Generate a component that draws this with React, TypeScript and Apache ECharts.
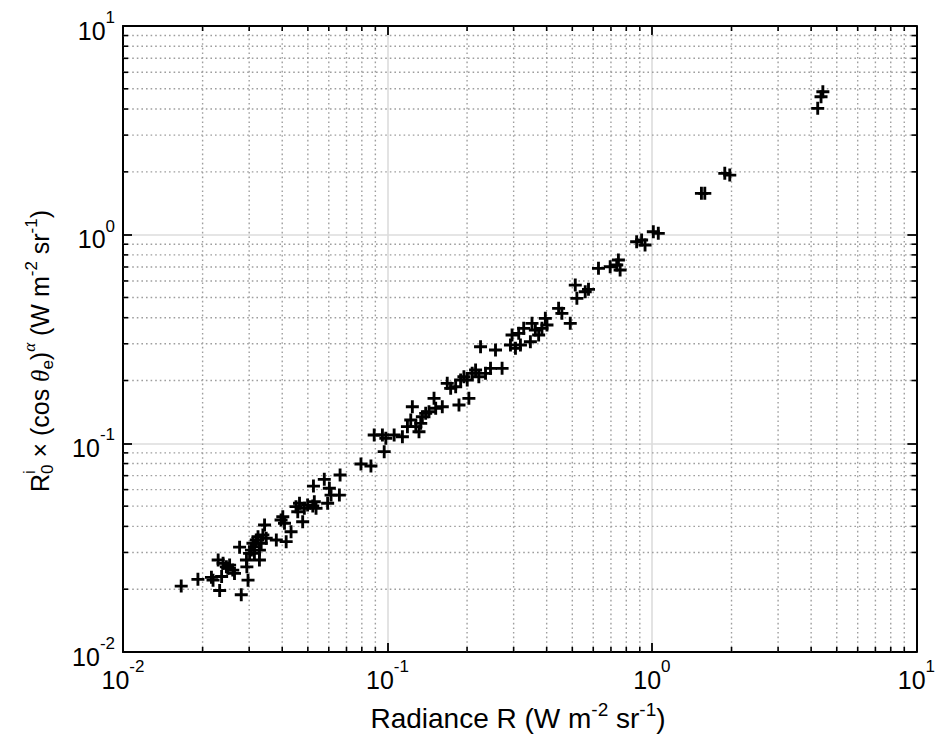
import React, { useEffect, useRef } from "react";
import * as echarts from "echarts";

// Radiance R (W m^-2 sr^-1)
const radianceX: number[] = [
  0.0166, 0.0192, 0.0216, 0.0219, 0.0232, 0.0236, 0.0229, 0.0239, 0.0246, 0.0253,
  0.026, 0.0264, 0.0249, 0.0276, 0.028, 0.0293, 0.0294, 0.0297, 0.0301, 0.0306,
  0.031, 0.0314, 0.0319, 0.0324, 0.0328, 0.0333, 0.0338, 0.0343, 0.0348, 0.0328,
  0.0314, 0.038, 0.0414, 0.0432, 0.0396, 0.0402, 0.0408, 0.0451, 0.0458, 0.0465,
  0.0478, 0.0485, 0.0499, 0.0522, 0.0529, 0.0525, 0.0537, 0.0577, 0.0603, 0.0594,
  0.0612, 0.0658, 0.0662, 0.0794, 0.0866, 0.0891, 0.0957, 0.0986, 0.0972, 0.106,
  0.1139, 0.119, 0.1225, 0.1242, 0.128, 0.1316, 0.1336, 0.1355, 0.1395, 0.1436,
  0.15, 0.1522, 0.1612, 0.1683, 0.1734, 0.1811, 0.1864, 0.1891, 0.1946, 0.2003,
  0.2032, 0.2091, 0.2154, 0.2216, 0.2349, 0.2453, 0.2249, 0.2562, 0.2713, 0.2918,
  0.2959, 0.3048, 0.3136, 0.3183, 0.3275, 0.3471, 0.352, 0.3625, 0.373, 0.3839,
  0.3954, 0.401, 0.4438, 0.4566, 0.4912, 0.5131, 0.5203, 0.5595, 0.5757, 0.628,
  0.6953, 0.7362, 0.747, 0.7581, 0.8755, 0.9419, 0.9143, 1.0123, 1.0571, 1.539,
  1.585, 1.886, 1.97, 4.236, 4.36, 4.43,
];

// R0^i x (cos theta_e)^alpha (W m^-2 sr^-1)
const r0CosY: number[] = [
  0.0207, 0.0223, 0.0228, 0.0221, 0.0197, 0.023, 0.0276, 0.0266, 0.0256, 0.0261,
  0.0247, 0.0238, 0.0252, 0.0318, 0.0188, 0.0276, 0.0256, 0.0221, 0.0297, 0.0308,
  0.0332, 0.032, 0.0344, 0.0357, 0.0308, 0.0332, 0.0364, 0.0406, 0.0351, 0.0276,
  0.0297, 0.0344, 0.0338, 0.0377, 0.0429, 0.0445, 0.0414, 0.0497, 0.047, 0.0516,
  0.0421, 0.0488, 0.0506, 0.0501, 0.0525, 0.0624, 0.0488, 0.0672, 0.0609, 0.0516,
  0.0565, 0.0565, 0.0705, 0.0796, 0.0779, 0.1096, 0.1096, 0.1057, 0.0912, 0.1096,
  0.1076, 0.1202, 0.1293, 0.1498, 0.1202, 0.1137, 0.1247, 0.1341, 0.1392, 0.1417,
  0.1643, 0.1472, 0.1498, 0.1939, 0.1834, 0.1867, 0.1526, 0.2011, 0.2085, 0.2011,
  0.1643, 0.2165, 0.2245, 0.2085, 0.2165, 0.2288, 0.2904, 0.28, 0.2288, 0.2958,
  0.3303, 0.2852, 0.3366, 0.2958, 0.3556, 0.3068, 0.3758, 0.3491, 0.3303, 0.3556,
  0.3972, 0.3689, 0.4436, 0.4197, 0.3758, 0.5734, 0.4952, 0.5325, 0.5469, 0.6897,
  0.702, 0.7154, 0.7558, 0.6768, 0.925, 0.8917, 0.9424, 1.033, 1.0148, 1.578,
  1.578, 1.967, 1.93, 4.03, 4.58, 4.84,
];

const axisMin = 0.01;
const axisMax = 10;
const tickValues: number[] = [0.01, 0.1, 1, 10];
const tickExponents: string[] = ["-2", "-1", "0", "1"];
const minorMultipliers: number[] = [2, 3, 4, 5, 6, 7, 8, 9];
const decades: number[] = [0.01, 0.1, 1];

const FONT = "'Liberation Sans', Arial, Helvetica, sans-serif";
const SERIF = "'Liberation Serif', 'DejaVu Serif', serif";

type Seg = { t: string; size: number; rise: number; italic?: boolean; serif?: boolean; stack?: boolean };

function buildText(segs: Seg[], cx: number, cy: number, rotation: number) {
  const canvas = document.createElement("canvas");
  const ctx = canvas.getContext("2d")!;
  const items: { seg: Seg; x: number }[] = [];
  let x = 0;
  let stackW = 0;
  for (const s of segs) {
    const fam = s.serif ? SERIF : FONT;
    ctx.font = `${s.italic ? "italic " : ""}${s.size}px ${fam}`;
    const w = ctx.measureText(s.t).width;
    items.push({ seg: s, x });
    if (s.stack) {
      stackW = Math.max(stackW, w);
    } else {
      x += Math.max(w, stackW);
      stackW = 0;
    }
  }
  const total = x;
  const children = items.map(({ seg, x }) => ({
    type: "text",
    x: x - total / 2,
    y: -seg.rise,
    style: {
      text: seg.t,
      fontSize: seg.size,
      fontFamily: seg.serif ? SERIF : FONT,
      fontStyle: seg.italic ? "italic" : "normal",
      fill: "#000",
      align: "left",
      verticalAlign: "middle",
    },
  }));
  return { type: "group", x: cx, y: cy, rotation, children };
}

const XS = 28; // x title font size
const XSS = 19;
const YS = 25; // y title font size
const YSS = 17;

const xTitleSegs: Seg[] = [
  { t: "Radiance R (W m", size: XS, rise: 0 },
  { t: "-2", size: XSS, rise: 9 },
  { t: " sr", size: XS, rise: 0 },
  { t: "-1", size: XSS, rise: 9 },
  { t: ")", size: XS, rise: 0 },
];

const yTitleSegs: Seg[] = [
  { t: "R", size: YS, rise: 0 },
  { t: "i", size: YSS, rise: 11, stack: true },
  { t: "0", size: YSS, rise: -7 },
  { t: " \u00d7 (cos ", size: YS, rise: 0 },
  { t: "\u03b8", size: YS, rise: 0, italic: true, serif: true },
  { t: "e", size: YSS, rise: -7 },
  { t: ")", size: YS, rise: 0 },
  { t: "\u03b1", size: YSS, rise: 11, italic: true, serif: true },
  { t: " (W m", size: YS, rise: 0 },
  { t: "-2", size: YSS, rise: 9 },
  { t: " sr", size: YS, rise: 0 },
  { t: "-1", size: YSS, rise: 9 },
  { t: ")", size: YS, rise: 0 },
];

function tickFormatter(v: number) {
  let best = 0;
  for (let i = 0; i < tickValues.length; i++) {
    if (Math.abs(Math.log10(tickValues[i]) - Math.log10(v)) < Math.abs(Math.log10(tickValues[best]) - Math.log10(v))) best = i;
  }
  return `{b|10}{s|${tickExponents[best]}}`;
}

const richLabel = {
  b: { fontSize: 25, fontFamily: FONT, color: "#000", lineHeight: 34, verticalAlign: "bottom" },
  s: { fontSize: 17, fontFamily: FONT, color: "#000", lineHeight: 20, verticalAlign: "top" },
};

export default function App() {
  const ref = useRef<HTMLDivElement>(null);
  useEffect(() => {
    if (!ref.current) return;
    const chart = echarts.init(ref.current, undefined, { renderer: "svg" });

    const minorValues: number[][] = [];
    for (const d of decades) for (const m of minorMultipliers) minorValues.push([d * m, d * m]);

    const points = radianceX.map((x, i) => [x, r0CosY[i]]);

    const baseAxis = {
      type: "log",
      logBase: 10,
      min: axisMin,
      max: axisMax,
      axisLine: { show: true, onZero: false, lineStyle: { color: "#000", width: 2 } },
      axisTick: { show: true, inside: true, length: 9, lineStyle: { color: "#000", width: 1.8 } },
    };

    chart.setOption({
      animation: false,
      backgroundColor: "#fff",
      grid: { left: 123, top: 26, width: 796, height: 626, containLabel: false },
      xAxis: [
        {
          ...baseAxis,
          position: "bottom",
          axisLabel: { formatter: tickFormatter, rich: richLabel, margin: 6 },
          splitLine: { show: true, lineStyle: { color: "#dcdcdc", width: 1.6 } },
        },
        {
          ...baseAxis,
          position: "top",
          axisLabel: { show: false },
          splitLine: { show: false },
        },
      ],
      yAxis: [
        {
          ...baseAxis,
          position: "left",
          axisLabel: { formatter: tickFormatter, rich: richLabel, margin: 8 },
          splitLine: { show: true, lineStyle: { color: "#dcdcdc", width: 1.6 } },
        },
        {
          ...baseAxis,
          position: "right",
          axisLabel: { show: false },
          splitLine: { show: false },
        },
      ],
      graphic: [
        buildText(xTitleSegs, 518, 718, 0),
        buildText(yTitleSegs, 40, 351, Math.PI / 2),
      ],
      series: [
        {
          type: "custom",
          xAxisIndex: 0,
          yAxisIndex: 0,
          silent: true,
          z: 1,
          clip: false,
          data: minorValues,
          renderItem: (params: any, api: any) => {
            const v = api.value(0);
            const b = api.coord([v, axisMin]);
            const t = api.coord([v, axisMax]);
            const l = api.coord([axisMin, v]);
            const r = api.coord([axisMax, v]);
            const dot = { stroke: "#9e9e9e", lineWidth: 1.4, lineDash: [1.6, 3] };
            const tick = { stroke: "#000", lineWidth: 1.6 };
            return {
              type: "group",
              children: [
                { type: "line", shape: { x1: b[0], y1: b[1], x2: t[0], y2: t[1] }, style: dot },
                { type: "line", shape: { x1: l[0], y1: l[1], x2: r[0], y2: r[1] }, style: dot },
                { type: "line", shape: { x1: b[0], y1: b[1], x2: b[0], y2: b[1] - 5 }, style: tick },
                { type: "line", shape: { x1: t[0], y1: t[1], x2: t[0], y2: t[1] + 5 }, style: tick },
                { type: "line", shape: { x1: l[0], y1: l[1], x2: l[0] + 5, y2: l[1] }, style: tick },
                { type: "line", shape: { x1: r[0], y1: r[1], x2: r[0] - 5, y2: r[1] }, style: tick },
              ],
            };
          },
        },
        {
          type: "scatter",
          xAxisIndex: 0,
          yAxisIndex: 0,
          z: 5,
          data: points,
          symbol: "path://M3.9,0H6.1V3.9H10V6.1H6.1V10H3.9V6.1H0V3.9H3.9Z",
          symbolSize: 13,
          itemStyle: { color: "#000", opacity: 1 },
        },
      ],
    });
    return () => chart.dispose();
  }, []);
  return <div ref={ref} style={{ position: "fixed", left: 0, top: 0, width: 938, height: 740 }} />;
}
